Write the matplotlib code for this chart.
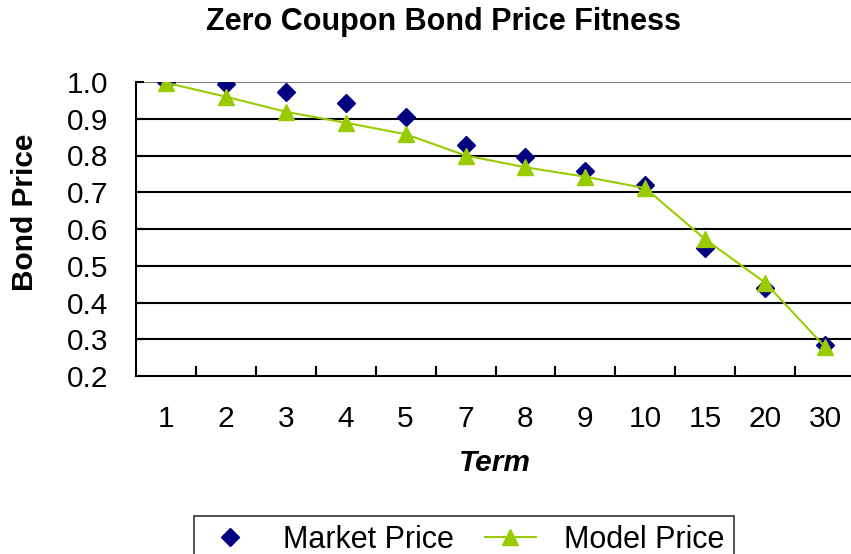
import matplotlib
matplotlib.use("Agg")
import matplotlib.pyplot as plt
import numpy as np

plt.rcParams['font.family'] = ['Liberation Sans', 'DejaVu Sans']

terms = ['1', '2', '3', '4', '5', '7', '8', '9', '10', '15', '20', '30']
market_price = [1.0, 0.994, 0.973, 0.942, 0.906, 0.829, 0.796, 0.759, 0.719, 0.549, 0.440, 0.284]
model_price = [0.998, 0.960, 0.919, 0.889, 0.858, 0.800, 0.768, 0.742, 0.711, 0.572, 0.454, 0.279]
yticks = [0.2, 0.3, 0.4, 0.5, 0.6, 0.7, 0.8, 0.9, 1.0]

fig = plt.figure(figsize=(8.51, 5.54), dpi=100)
ax = fig.add_axes([136/851, 1 - 376/554, 719/851, 294/554])

x = np.arange(len(terms))

# gridlines
for v in yticks[1:]:
    ax.axhline(v, color='#808080' if v == 1.0 else 'black', lw=1.5, zorder=1)

ax.plot(x, market_price, linestyle='none', marker='D', ms=9, color='#000080',
        label='Market Price', zorder=3)
ax.plot(x, model_price, color='#99CC00', lw=1.5, marker='^', ms=11.5,
        label='Model Price', zorder=4)

ax.set_xlim(-0.5, len(terms) - 0.5)
ax.set_ylim(0.2, 1.0)
ax.set_yticks(yticks)
ax.set_yticklabels(['%.1f' % v for v in yticks], fontsize=21.5)

# category boundaries as ticks, labels at centres
ax.set_xticks(np.arange(0.5, len(terms) - 0.5, 1))
ax.set_xticklabels([])
ax.tick_params(axis='x', which='major', direction='in', length=7, width=1.5, color='black')
ax.set_xticks(x, minor=True)
ax.set_xticklabels(terms, minor=True, fontsize=21.5)
ax.tick_params(axis='x', which='minor', length=0, pad=21)
ax.tick_params(axis='y', direction='in', length=6, width=1.5, pad=20)

for s in ['top', 'right']:
    ax.spines[s].set_visible(False)
for s in ['left', 'bottom']:
    ax.spines[s].set_linewidth(1.5)

fig.text(444/851, 1 - 22/554, 'Zero Coupon Bond Price Fitness', fontsize=22,
         fontweight='bold', ha='center', va='center')
fig.text(25/851, 1 - 212/554, 'Bond Price', fontsize=21.5, fontweight='bold',
         rotation=90, ha='center', va='center')
fig.text(495/851, 1 - 463/554, 'Term', fontsize=21.5, fontweight='bold',
         style='italic', ha='center', va='center')

leg = fig.legend(loc='upper center', bbox_to_anchor=(464/851, 1 - 516/554), ncol=2,
                 fontsize=22, frameon=True, fancybox=False, edgecolor='black',
                 handlelength=1.7, columnspacing=1.0, borderpad=0.3,
                 handletextpad=0.9, borderaxespad=0)
leg.get_frame().set_linewidth(1.2)

fig.savefig('out.png', dpi=100)
